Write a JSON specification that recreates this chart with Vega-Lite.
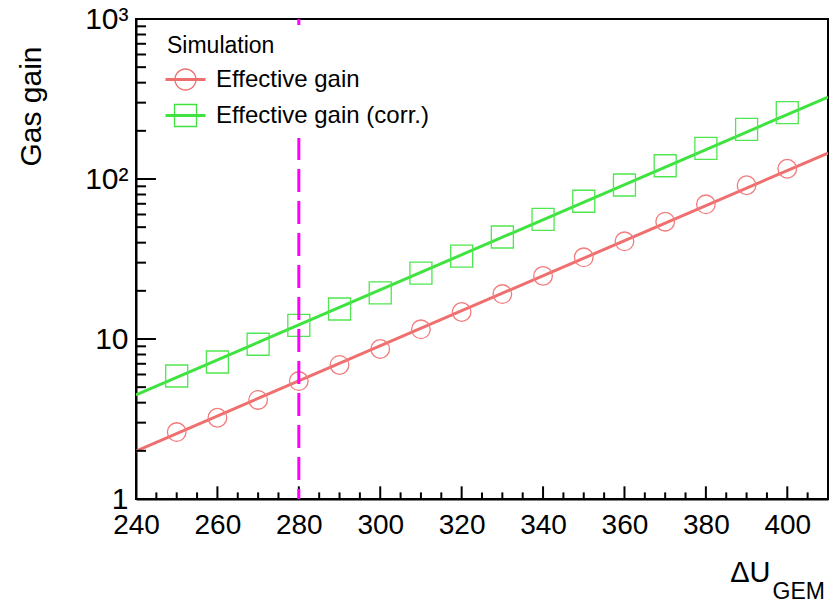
{
  "$schema": "https://vega.github.io/schema/vega-lite/v6.json",
  "width": 692,
  "height": 480,
  "autosize": {"type": "none"},
  "padding": {"left": 136, "top": 19, "right": 4, "bottom": 104},
  "background": "white",
  "config": {
    "view": {"stroke": "black", "strokeWidth": 2},
    "font": "Liberation Sans",
    "axis": {"grid": false}
  },
  "datasets": {
    "fits": [
      {"series": "Effective gain", "U": 240, "gain": 1.995},
      {"series": "Effective gain", "U": 410, "gain": 145.3},
      {"series": "Effective gain (corr.)", "U": 240, "gain": 4.467},
      {"series": "Effective gain (corr.)", "U": 410, "gain": 325.4}
    ],
    "points": [
      {"series": "Effective gain", "U": 250, "gain": 2.62},
      {"series": "Effective gain", "U": 260, "gain": 3.22},
      {"series": "Effective gain", "U": 270, "gain": 4.16},
      {"series": "Effective gain", "U": 280, "gain": 5.46},
      {"series": "Effective gain", "U": 290, "gain": 6.88},
      {"series": "Effective gain", "U": 300, "gain": 8.66},
      {"series": "Effective gain", "U": 310, "gain": 11.5},
      {"series": "Effective gain", "U": 320, "gain": 14.75},
      {"series": "Effective gain", "U": 330, "gain": 19.1},
      {"series": "Effective gain", "U": 340, "gain": 24.8},
      {"series": "Effective gain", "U": 350, "gain": 32.4},
      {"series": "Effective gain", "U": 360, "gain": 40.8},
      {"series": "Effective gain", "U": 370, "gain": 54.1},
      {"series": "Effective gain", "U": 380, "gain": 69.5},
      {"series": "Effective gain", "U": 390, "gain": 91.4},
      {"series": "Effective gain", "U": 400, "gain": 115.9},
      {"series": "Effective gain (corr.)", "U": 250, "gain": 5.87},
      {"series": "Effective gain (corr.)", "U": 260, "gain": 7.18},
      {"series": "Effective gain (corr.)", "U": 270, "gain": 9.27},
      {"series": "Effective gain (corr.)", "U": 280, "gain": 12.18},
      {"series": "Effective gain (corr.)", "U": 290, "gain": 15.4},
      {"series": "Effective gain (corr.)", "U": 300, "gain": 19.4},
      {"series": "Effective gain (corr.)", "U": 310, "gain": 25.8},
      {"series": "Effective gain (corr.)", "U": 320, "gain": 33.0},
      {"series": "Effective gain (corr.)", "U": 330, "gain": 43.4},
      {"series": "Effective gain (corr.)", "U": 340, "gain": 56.0},
      {"series": "Effective gain (corr.)", "U": 350, "gain": 72.6},
      {"series": "Effective gain (corr.)", "U": 360, "gain": 91.7},
      {"series": "Effective gain (corr.)", "U": 370, "gain": 121.0},
      {"series": "Effective gain (corr.)", "U": 380, "gain": 155.5},
      {"series": "Effective gain (corr.)", "U": 390, "gain": 204.5},
      {"series": "Effective gain (corr.)", "U": 400, "gain": 259.6}
    ],
    "xmajor": [
      {"v": 260}, {"v": 280}, {"v": 300}, {"v": 320}, {"v": 340}, {"v": 360}, {"v": 380}, {"v": 400}
    ],
    "xminor": [
      {"v": 245}, {"v": 250}, {"v": 255}, {"v": 265}, {"v": 270}, {"v": 275},
      {"v": 285}, {"v": 290}, {"v": 295}, {"v": 305}, {"v": 310}, {"v": 315},
      {"v": 325}, {"v": 330}, {"v": 335}, {"v": 345}, {"v": 350}, {"v": 355},
      {"v": 365}, {"v": 370}, {"v": 375}, {"v": 385}, {"v": 390}, {"v": 395}, {"v": 405}
    ],
    "ymajor": [
      {"v": 10}, {"v": 100}
    ],
    "yminor": [
      {"v": 2}, {"v": 3}, {"v": 4}, {"v": 5}, {"v": 6}, {"v": 7}, {"v": 8}, {"v": 9},
      {"v": 20}, {"v": 30}, {"v": 40}, {"v": 50}, {"v": 60}, {"v": 70}, {"v": 80}, {"v": 90},
      {"v": 200}, {"v": 300}, {"v": 400}, {"v": 500}, {"v": 600}, {"v": 700}, {"v": 800}, {"v": 900}
    ]
  },
  "layer": [
    {
      "data": {"name": "fits"},
      "transform": [{"filter": "datum.series === 'Effective gain'"}],
      "mark": {"type": "line", "strokeWidth": 3, "clip": true, "color": "#ef6f6f"},
      "encoding": {
        "x": {
          "field": "U", "type": "quantitative",
          "scale": {"domain": [240, 410], "nice": false, "zero": false},
          "axis": {
            "orient": "bottom",
            "values": [240, 260, 280, 300, 320, 340, 360, 380, 400],
            "format": "d",
            "ticks": false,
            "domain": true, "domainColor": "black", "domainWidth": 2,
            "labelFontSize": 28, "labelColor": "black", "labelFont": "Liberation Sans",
            "labelPadding": 12, "labelFlush": false, "labelOverlap": false,
            "title": "ΔU", "titleFontSize": 29, "titleFontWeight": "normal", "titleColor": "black",
            "titleFont": "Liberation Sans",
            "titleX": 634, "titleY": 82, "titleAlign": "right", "titleBaseline": "alphabetic", "titleAnchor": "end"
          }
        },
        "y": {
          "field": "gain", "type": "quantitative",
          "scale": {"type": "log", "domain": [1, 1000], "nice": false},
          "axis": {
            "orient": "left",
            "values": [1, 10, 100, 1000],
            "labelExpr": "datum.value == 1 ? '1' : datum.value == 10 ? '10' : datum.value == 100 ? '10²' : '10³'",
            "ticks": false,
            "domain": true, "domainColor": "black", "domainWidth": 2,
            "labelFontSize": 30, "labelColor": "black", "labelFont": "Liberation Sans",
            "labelPadding": 8, "labelFlush": false, "labelOverlap": false,
            "title": "Gas gain", "titleFontSize": 30, "titleFontWeight": "normal", "titleColor": "black",
            "titleFont": "Liberation Sans",
            "titleAngle": 270, "titleX": -96, "titleY": 27, "titleAlign": "right", "titleBaseline": "alphabetic"
          }
        }
      }
    },
    {
      "data": {"name": "xmajor"},
      "mark": {"type": "rule", "color": "black", "strokeWidth": 2},
      "encoding": {
        "x": {"field": "v", "type": "quantitative", "axis": null},
        "y": {"datum": 1, "type": "quantitative", "axis": null},
        "y2": {"datum": 1.2}
      }
    },
    {
      "data": {"name": "xminor"},
      "mark": {"type": "rule", "color": "black", "strokeWidth": 2},
      "encoding": {
        "x": {"field": "v", "type": "quantitative", "axis": null},
        "y": {"datum": 1, "type": "quantitative", "axis": null},
        "y2": {"datum": 1.1}
      }
    },
    {
      "data": {"name": "ymajor"},
      "mark": {"type": "rule", "color": "black", "strokeWidth": 2},
      "encoding": {
        "y": {"field": "v", "type": "quantitative", "axis": null},
        "x": {"datum": 240, "type": "quantitative", "axis": null},
        "x2": {"datum": 244.9}
      }
    },
    {
      "data": {"name": "yminor"},
      "mark": {"type": "rule", "color": "black", "strokeWidth": 2},
      "encoding": {
        "y": {"field": "v", "type": "quantitative", "axis": null},
        "x": {"datum": 240, "type": "quantitative", "axis": null},
        "x2": {"datum": 242.45}
      }
    },
    {
      "data": {"name": "fits"},
      "transform": [{"filter": "datum.series === 'Effective gain (corr.)'"}],
      "mark": {"type": "line", "strokeWidth": 3, "clip": true, "color": "#3fe33f"},
      "encoding": {
        "x": {"field": "U", "type": "quantitative", "axis": null},
        "y": {"field": "gain", "type": "quantitative", "axis": null}
      }
    },
    {
      "data": {"name": "points"},
      "transform": [{"filter": "datum.series === 'Effective gain'"}],
      "mark": {"type": "point", "shape": "circle", "size": 346, "strokeWidth": 1.3, "color": "#f27b7b", "filled": false, "opacity": 1},
      "encoding": {
        "x": {
          "field": "U", "type": "quantitative",
          "axis": {
            "orient": "bottom",
            "values": [240],
            "ticks": false, "labels": false, "domain": false,
            "title": "GEM", "titleFontSize": 23, "titleFontWeight": "normal", "titleColor": "black",
            "titleFont": "Liberation Sans",
            "titleX": 636, "titleY": 99, "titleAlign": "left", "titleBaseline": "alphabetic"
          }
        },
        "y": {"field": "gain", "type": "quantitative", "axis": null}
      }
    },
    {
      "data": {"name": "points"},
      "transform": [{"filter": "datum.series === 'Effective gain (corr.)'"}],
      "mark": {"type": "point", "shape": "square", "size": 484, "strokeWidth": 1.3, "color": "#4fe64f", "filled": false, "opacity": 1},
      "encoding": {
        "x": {"field": "U", "type": "quantitative", "axis": null},
        "y": {"field": "gain", "type": "quantitative", "axis": null}
      }
    },
    {
      "data": {"values": [{"U": 280}]},
      "mark": {"type": "rule", "color": "#ff00ff", "strokeWidth": 3, "strokeDash": [23, 9], "strokeDashOffset": 13},
      "encoding": {
        "x": {"field": "U", "type": "quantitative", "axis": null},
        "y": {"datum": 1, "type": "quantitative", "axis": null},
        "y2": {"datum": 1000}
      }
    },
    {
      "data": {"name": "fits"},
      "transform": [{"filter": "false"}],
      "mark": {"type": "point", "filled": true, "size": 1369, "strokeWidth": 0, "opacity": 1},
      "encoding": {
        "x": {"field": "U", "type": "quantitative", "axis": null},
        "y": {"field": "gain", "type": "quantitative", "axis": null},
        "color": {
          "field": "series", "type": "nominal",
          "scale": {"domain": ["Effective gain", "Effective gain (corr.)"], "range": ["#ef6f6f", "#3fe33f"]},
          "legend": {
            "orient": "none", "legendX": 21, "legendY": 6,
            "title": "Simulation", "titleFontSize": 23, "titleFont": "Liberation Sans", "titleFontWeight": "normal",
            "titleColor": "black", "titlePadding": 3,
            "labelFontSize": 24, "labelFont": "Liberation Sans", "labelColor": "black", "labelOffset": 12, "labelLimit": 400,
            "symbolSize": 1369, "symbolStrokeWidth": 0, "symbolOpacity": 1, "rowPadding": 5, "padding": 10, "fillColor": "white"
          }
        },
        "shape": {
          "field": "series", "type": "nominal",
          "scale": {
            "domain": ["Effective gain", "Effective gain (corr.)"],
            "range": [
              "M-0.603,0A0.603,0.603 0 1 1 0.603,0A0.603,0.603 0 1 1 -0.603,0Z M0.533,0A0.533,0.533 0 1 0 -0.533,0A0.533,0.533 0 1 0 0.533,0Z M-1.08,-0.075H1.08V0.075H-1.08Z",
              "M-0.63,-0.63H0.63V0.63H-0.63Z M-0.56,-0.56V0.56H0.56V-0.56Z M-1.08,-0.075H1.08V0.075H-1.08Z"
            ]
          },
          "legend": {
            "orient": "none", "legendX": 21, "legendY": 6,
            "title": "Simulation", "titleFontSize": 23, "titleFont": "Liberation Sans", "titleFontWeight": "normal",
            "titleColor": "black", "titlePadding": 3,
            "labelFontSize": 24, "labelFont": "Liberation Sans", "labelColor": "black", "labelOffset": 12, "labelLimit": 400,
            "symbolSize": 1369, "symbolStrokeWidth": 0, "symbolOpacity": 1, "rowPadding": 5, "padding": 10, "fillColor": "white"
          }
        }
      }
    }
  ],
  "resolve": {"axis": {"x": "independent", "y": "independent"}}
}
